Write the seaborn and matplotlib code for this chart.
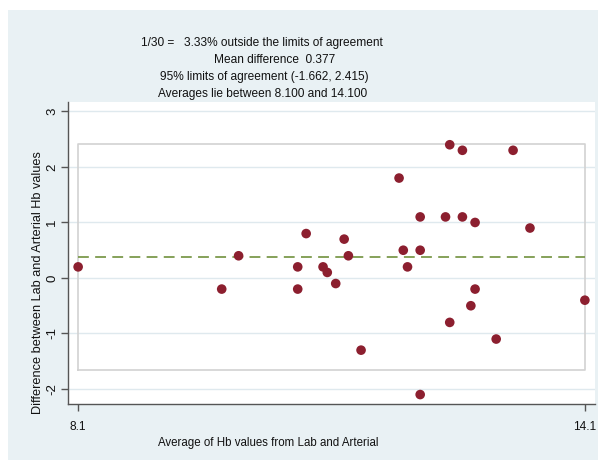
import numpy as np
import pandas as pd
import matplotlib
matplotlib.use("Agg")
import matplotlib.pyplot as plt
import seaborn as sns

# Hb averages (x) and Lab - Arterial differences (y)
avg_hb = [8.10, 9.80, 10.00, 10.70, 10.70, 10.80, 11.00, 11.05, 11.15, 11.25,
          11.30, 11.45, 11.90, 11.95, 12.00, 12.15, 12.15, 12.15, 12.45, 12.50,
          12.50, 12.65, 12.65, 12.80, 12.80, 12.75, 13.05, 13.25, 13.45, 14.10]
diff_hb = [0.2, -0.2, 0.4, 0.2, -0.2, 0.8, 0.2, 0.1, -0.1, 0.7,
           0.4, -1.3, 1.8, 0.5, 0.2, 1.1, 0.5, -2.1, 1.1, 2.4,
           -0.8, 2.3, 1.1, 1.0, -0.2, -0.5, -1.1, 2.3, 0.9, -0.4]

mean_diff = 0.377
loa_low, loa_high = -1.662, 2.415
x_min, x_max = 8.1, 14.1
y_ticks = [-2, -1, 0, 1, 2, 3]
x_ticks = [8.1, 14.1]

title_lines = [
    "1/30 =   3.33% outside the limits of agreement",
    "Mean difference  0.377",
    "95% limits of agreement (-1.662, 2.415)",
    "Averages lie between 8.100 and 14.100",
]

df = pd.DataFrame({"avg": avg_hb, "diff": diff_hb})

sns.set_theme(style="white")
plt.rcParams["font.family"] = ["Liberation Sans", "DejaVu Sans"]

W, H = 598, 461
fig = plt.figure(figsize=(W / 100, H / 100), dpi=100)
fig.patch.set_facecolor("white")

# light bluish graph region
bg = plt.Rectangle((8 / W, 1 - 460 / H), 1 - 8 / W, (460 - 10) / H,
                   transform=fig.transFigure, facecolor="#e9f1f4",
                   edgecolor="none", zorder=-10)
fig.patches.append(bg)

left, right, top, bottom = 68, 595, 102, 404
ax = fig.add_axes([left / W, 1 - bottom / H, (right - left) / W, (bottom - top) / H])
ax.set_facecolor("white")

ax.set_xlim(7.98, 14.22)
ax.set_ylim(-2.27, 3.17)

# horizontal grid
for yt in y_ticks:
    ax.axhline(yt, color="#dfe9ee", lw=1.0, zorder=0)

# limits of agreement box
ax.plot([x_min, x_max, x_max, x_min, x_min],
        [loa_low, loa_low, loa_high, loa_high, loa_low],
        color="#d2d2d2", lw=1.2, zorder=1)

# mean difference
ax.plot([x_min, x_max], [mean_diff, mean_diff], color="#7c9a4c", lw=1.3,
        dashes=(6, 3.5), zorder=2)

sns.scatterplot(data=df, x="avg", y="diff", ax=ax, color="#8c1f2f", s=48,
                edgecolor="none", linewidth=0, zorder=3, legend=False)

for side in ["top", "right"]:
    ax.spines[side].set_visible(False)
for side in ["left", "bottom"]:
    ax.spines[side].set_color("#555555")
    ax.spines[side].set_linewidth(1.0)

ax.set_yticks(y_ticks)
ax.set_yticklabels([str(v) for v in y_ticks], rotation=90, va="center",
                   fontsize=9.5)
ax.set_xticks(x_ticks)
ax.set_xticklabels(["8.1", "14.1"], fontsize=8.6)
ax.tick_params(axis="both", direction="out", length=5, width=1.0,
               color="#555555", labelcolor="#111111", pad=2,
               left=True, bottom=True)
ax.tick_params(axis="x", pad=7)
ax.set_xlabel("")
ax.set_ylabel("")

fs = 8.6
centers = [262, 275, 264.5, 262.5]
ys = [43, 60, 77, 94]
for line, cx, cy in zip(title_lines, centers, ys):
    fig.text(cx / W, 1 - cy / H, line, ha="center", va="center",
             fontsize=fs, color="#111111")

fig.text(268 / W, 1 - 443 / H, "Average of Hb values from Lab and Arterial",
         ha="center", va="center", fontsize=8.3, color="#111111")
fig.text(38 / W, 1 - 283 / H, "Difference between Lab and Arterial Hb values",
         ha="center", va="center", rotation=90, fontsize=9.2, color="#111111")

fig.savefig("out.png", dpi=100)
